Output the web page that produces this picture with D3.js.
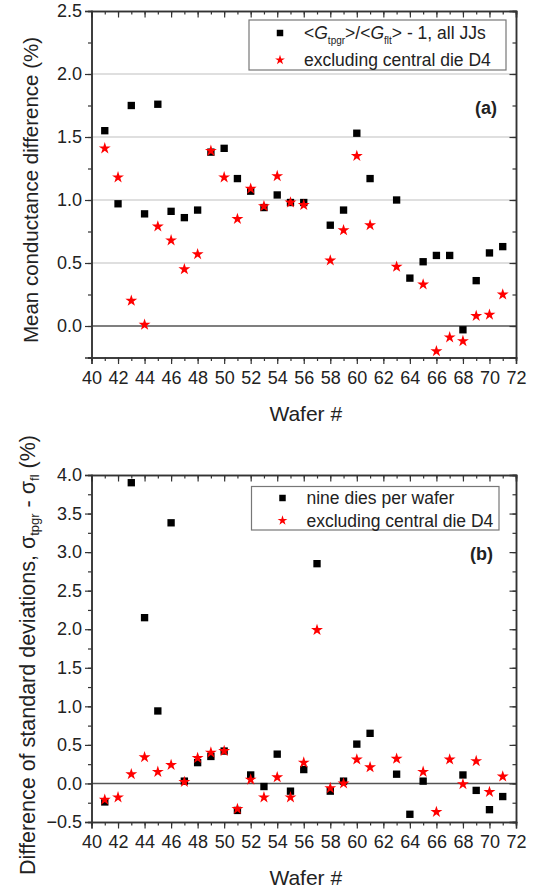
<!DOCTYPE html>
<html>
<head>
<meta charset="utf-8">
<script src="https://cdn.jsdelivr.net/npm/d3@7"></script>
<style>
  body { margin: 0; background: #fff; }
  svg text { font-family: "Liberation Sans", Arial, sans-serif; fill: #222; }
</style>
</head>
<body>
<div id="chart"></div>
<script>
// wafer numbers (x categories)
const wafers = [41, 42, 43, 44, 45, 46, 47, 48, 49, 50, 51, 52, 53, 54, 55, 56,
                57, 58, 59, 60, 61, 62, 63, 64, 65, 66, 67, 68, 69, 70, 71];

// panel (a): mean conductance difference (%)
const meanAll = [1.55, 0.97, 1.75, 0.89, 1.76, 0.91, 0.86, 0.92, 1.38, 1.41, 1.17, 1.07, 0.94, 1.04, 0.98, 0.98,
                 null, 0.80, 0.92, 1.53, 1.17, null, 1.00, 0.38, 0.51, 0.56, 0.56, -0.03, 0.36, 0.58, 0.63];
const meanExcl = [1.41, 1.18, 0.20, 0.01, 0.79, 0.68, 0.45, 0.57, 1.39, 1.18, 0.85, 1.09, 0.95, 1.19, 0.98, 0.96,
                  null, 0.52, 0.76, 1.35, 0.80, null, 0.47, null, 0.33, -0.20, -0.09, -0.12, 0.08, 0.09, 0.25];

// panel (b): difference of standard deviations (%)
const sdNine = [-0.24, null, 3.90, 2.15, 0.94, 3.38, 0.03, 0.27, 0.35, 0.42, -0.35, 0.11, -0.04, 0.38, -0.10, 0.18,
                2.85, -0.10, 0.03, 0.51, 0.65, null, 0.12, -0.40, 0.03, null, null, 0.11, -0.09, -0.34, -0.17];
const sdExcl = [-0.21, -0.18, 0.12, 0.34, 0.15, 0.24, 0.02, 0.33, 0.40, 0.42, -0.33, 0.05, -0.18, 0.08, -0.18, 0.27,
                1.99, -0.06, 0.00, 0.31, 0.21, null, 0.32, null, 0.15, -0.37, 0.31, -0.01, 0.29, -0.11, 0.09];

const xTicks = [40, 42, 44, 46, 48, 50, 52, 54, 56, 58, 60, 62, 64, 66, 68, 70, 72];
const yTicksA = [0.0, 0.5, 1.0, 1.5, 2.0, 2.5];
const yTicksB = [-0.5, 0.0, 0.5, 1.0, 1.5, 2.0, 2.5, 3.0, 3.5, 4.0];

const svg = d3.select('#chart').append('svg')
    .attr('width', 538)
    .attr('height', 888);

const left = 91.5, right = 516;

function pairs(vals) {
  return wafers.map((w, i) => ({ w: w, v: vals[i] })).filter(d => d.v !== null);
}

function drawPanel(opt) {
  const x = d3.scaleLinear().domain([40, 72]).range([left, right]);
  const y = d3.scaleLinear().domain(opt.yDomain).range([opt.bottom, opt.top]);
  const g = svg.append('g');

  // grid lines
  g.selectAll('.grid')
      .data(opt.grid)
      .enter().append('line')
      .attr('x1', left).attr('x2', right)
      .attr('y1', d => y(d)).attr('y2', d => y(d))
      .attr('stroke', '#d4d4d4')
      .attr('stroke-width', 1.5);

  // zero line
  g.append('line')
      .attr('x1', left).attr('x2', right)
      .attr('y1', y(0)).attr('y2', y(0))
      .attr('stroke', '#555')
      .attr('stroke-width', 1.5);

  const minorX = d3.range(40, 73, 1);
  const minorY = d3.range(opt.yDomain[0], opt.yDomain[1] + 0.001, 0.25);

  // minor ticks
  g.append('g').attr('transform', `translate(0,${opt.bottom})`)
      .call(d3.axisBottom(x).tickValues(minorX).tickSize(3.5).tickFormat(''));
  g.append('g').attr('transform', `translate(0,${opt.top})`)
      .call(d3.axisTop(x).tickValues(minorX).tickSize(-3.5).tickFormat(''));
  g.append('g').attr('transform', `translate(${left},0)`)
      .call(d3.axisLeft(y).tickValues(minorY).tickSize(3.5).tickFormat(''));
  g.append('g').attr('transform', `translate(${right},0)`)
      .call(d3.axisRight(y).tickValues(minorY).tickSize(-3.5).tickFormat(''));

  // major ticks + labels
  g.append('g').attr('class', 'xaxis').attr('transform', `translate(0,${opt.bottom})`)
      .call(d3.axisBottom(x).tickValues(xTicks).tickSize(6.5).tickPadding(7).tickFormat(d3.format('d')));
  g.append('g').attr('transform', `translate(0,${opt.top})`)
      .call(d3.axisTop(x).tickValues(xTicks).tickSize(-6.5).tickFormat(''));
  g.append('g').attr('class', 'yaxis').attr('transform', `translate(${left},0)`)
      .call(d3.axisLeft(y).tickValues(opt.yTicks).tickSize(6.5).tickPadding(3).tickFormat(d3.format('.1f')));
  g.append('g').attr('transform', `translate(${right},0)`)
      .call(d3.axisRight(y).tickValues(opt.yTicks).tickSize(-6.5).tickFormat(''));

  g.selectAll('.domain').attr('stroke', '#333').attr('stroke-width', 1.5);
  g.selectAll('.tick line').attr('stroke', '#333').attr('stroke-width', 1.2);
  g.selectAll('.tick text').attr('font-size', 18).attr('fill', '#222')
      .style('font-family', '"Liberation Sans", Arial, sans-serif');

  // data points
  const sq = d3.symbol().type(d3.symbolSquare).size(54);
  const star = d3.symbol().type(d3.symbolStar).size(44);

  g.append('g').selectAll('path')
      .data(pairs(opt.black))
      .enter().append('path')
      .attr('d', sq)
      .attr('fill', '#000')
      .attr('transform', d => `translate(${x(d.w)},${y(d.v)})`);

  g.append('g').selectAll('path')
      .data(pairs(opt.red))
      .enter().append('path')
      .attr('d', star)
      .attr('fill', '#ff0000')
      .attr('transform', d => `translate(${x(d.w)},${y(d.v)})`);

  // x label
  g.append('text')
      .attr('x', (left + right) / 2 + 2)
      .attr('y', opt.bottom + 63)
      .attr('text-anchor', 'middle')
      .attr('font-size', 21)
      .text('Wafer #');

  // panel tag
  g.append('text')
      .attr('x', opt.tag.x)
      .attr('y', opt.tag.y)
      .attr('text-anchor', 'end')
      .attr('font-size', 18)
      .attr('font-weight', 'bold')
      .text(opt.tag.text);

  // legend
  const lg = opt.legend;
  g.append('rect')
      .attr('x', lg.x).attr('y', lg.y)
      .attr('width', lg.w).attr('height', lg.h)
      .attr('fill', '#fff')
      .attr('stroke', '#777')
      .attr('stroke-width', 1.2);
  g.append('path')
      .attr('d', d3.symbol().type(d3.symbolSquare).size(42))
      .attr('fill', '#000')
      .attr('transform', `translate(${lg.x + 31},${lg.y1})`);
  g.append('path')
      .attr('d', d3.symbol().type(d3.symbolStar).size(30))
      .attr('fill', '#ff0000')
      .attr('transform', `translate(${lg.x + 31},${lg.y2})`);
  const t1 = g.append('text')
      .attr('x', lg.x + 55).attr('y', lg.y1 + 6)
      .attr('font-size', 17.5);
  lg.label1(t1);
  g.append('text')
      .attr('x', lg.x + 55).attr('y', lg.y2 + 6)
      .attr('font-size', 17.5)
      .text('excluding central die D4');

  // y label
  const yl = g.append('text')
      .attr('transform', `translate(${opt.yLabel.x},${opt.yLabel.y}) rotate(-90)`)
      .attr('text-anchor', 'middle')
      .attr('font-size', opt.yLabel.size);
  opt.yLabel.draw(yl);
}

drawPanel({
  top: 11, bottom: 357.5,
  yDomain: [-0.25, 2.5],
  yTicks: yTicksA,
  grid: [0.5, 1.0, 1.5, 2.0],
  black: meanAll, red: meanExcl,
  tag: { x: 497, y: 114, text: '(a)' },
  legend: {
    x: 249, y: 20, w: 257, h: 50, y1: 33, y2: 60,
    label1: t => {
      t.append('tspan').text('<');
      t.append('tspan').attr('font-style', 'italic').text('G');
      t.append('tspan').attr('font-size', 10).attr('dy', 5).text('tpgr');
      t.append('tspan').attr('dy', -5).text('>/<');
      t.append('tspan').attr('font-style', 'italic').text('G');
      t.append('tspan').attr('font-size', 10).attr('dy', 5).text('flt');
      t.append('tspan').attr('dy', -5).text('> - 1, all JJs');
    }
  },
  yLabel: {
    x: 38, y: 190, size: 20.5,
    draw: t => t.text('Mean conductance difference (%)')
  }
});

drawPanel({
  top: 475, bottom: 822,
  yDomain: [-0.5, 4.0],
  yTicks: yTicksB,
  grid: [],
  black: sdNine, red: sdExcl,
  tag: { x: 493, y: 560, text: '(b)' },
  legend: {
    x: 251.5, y: 486.5, w: 247.5, h: 43.5, y1: 498, y2: 520.5,
    label1: t => t.text('nine dies per wafer')
  },
  yLabel: {
    x: 35, y: 655, size: 21.5,
    draw: t => {
      t.append('tspan').text('Difference of standard deviations, σ');
      t.append('tspan').attr('font-size', 13).attr('dy', 4).text('tpgr');
      t.append('tspan').attr('dy', -4).text(' - σ');
      t.append('tspan').attr('font-size', 13).attr('dy', 4).text('fl');
      t.append('tspan').attr('dy', -4).text(' (%)');
    }
  }
});
</script>
</body>
</html>
